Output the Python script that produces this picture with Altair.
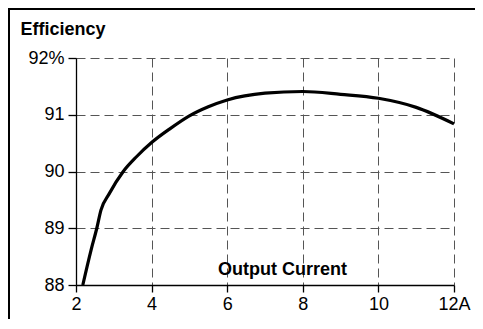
import altair as alt
import pandas as pd

current = [2.18, 2.40, 2.55, 2.66, 2.88, 3.25, 3.6, 4.0, 4.5, 5.0, 5.5, 6.0, 7.0, 8.0, 9.0, 10.0, 11.0, 12.0]
efficiency = [88.0, 88.62, 89.0, 89.32, 89.61, 90.0, 90.26, 90.51, 90.76, 90.98, 91.14, 91.26, 91.38, 91.41, 91.36, 91.29, 91.13, 90.84]
x_ticks = [2, 4, 6, 8, 10, 12]
y_ticks = [88, 89, 90, 91, 92]

df = pd.DataFrame({"current": current, "eff": efficiency})
FONT = "Liberation Sans"

line = alt.Chart(df).mark_line(color="black", strokeWidth=3.2, interpolate="monotone").encode(
    x=alt.X("current:Q", scale=alt.Scale(domain=[2, 12], nice=False, zero=False),
            axis=alt.Axis(values=x_ticks, title="Output Current",
                          labelExpr="datum.value == 12 ? '12A' : datum.label",
                          titleAnchor="start", titleAlign="center", titleX=206, titleY=-11,
                          titleBaseline="alphabetic", titleFontWeight="bold", titleFontSize=18,
                          tickSize=7, labelPadding=3, labelFlush=False)),
    y=alt.Y("eff:Q", scale=alt.Scale(domain=[88, 92], nice=False, zero=False),
            axis=alt.Axis(values=y_ticks, title="Efficiency",
                          labelExpr="datum.value == 92 ? '92%' : datum.label",
                          titleAngle=0, titleAlign="left", titleX=-56, titleY=-24,
                          titleBaseline="alphabetic", titleFontWeight="bold", titleFontSize=18,
                          tickSize=8, labelPadding=4, labelFlush=False)),
)

frame_top = alt.Chart(df).mark_rule(color="black", strokeWidth=1.3).encode(
    x=alt.value(-67.3), x2=alt.value(399), y=alt.value(-49.3))
frame_left = alt.Chart(df).mark_rule(color="black", strokeWidth=1.3).encode(
    x=alt.value(-67.3), y=alt.value(-49.3), y2=alt.value(263))

chart = alt.layer(line, frame_top, frame_left).properties(
    width=378, height=227,
    padding={"left": 68, "top": 50, "right": 21, "bottom": 34},
    autosize=alt.AutoSizeParams(type="none"),
    background="white",
).configure_view(stroke=None).configure_axis(
    labelFont=FONT, titleFont=FONT, labelFontSize=18, labelColor="black", titleColor="black",
    domainColor="black", domainWidth=1.3, tickColor="black", tickWidth=1.3,
    grid=True, gridColor="#555555", gridDash=[9, 5], gridWidth=1, gridOpacity=1,
)

chart.save("out.html", embed_options={"renderer": "svg", "actions": False})
